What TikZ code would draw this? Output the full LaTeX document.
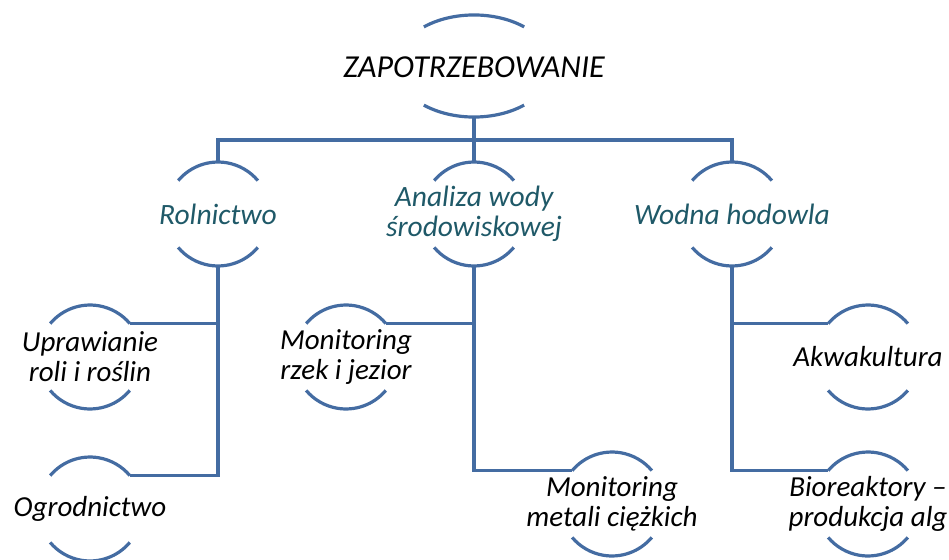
\documentclass[tikz,border=0pt]{standalone}
\usepackage{fontspec}
\setmainfont{Carlito}
\usetikzlibrary{calc}
\definecolor{lineblue}{RGB}{68,108,162}
\definecolor{tealtext}{RGB}{31,89,104}
\tikzset{
  conn/.style={draw=lineblue, line width=3.2pt},
  lvlone/.style={font=\fontsize{32}{34}\selectfont\itshape, text=black, align=center, inner sep=0pt},
  lvltwo/.style={font=\fontsize{29.5}{30}\selectfont\itshape, text=tealtext, align=center, inner sep=0pt},
  lvlthree/.style={font=\fontsize{29}{30}\selectfont\itshape, text=black, align=center, inner sep=0pt},
}
% bracket node: name, x, y, style, text  (circle radius 52, arcs 40..140 deg)
\newcommand\bracketnode[5]{%
  \node[#4] (#1) at (#2,#3) {#5};
  \coordinate (#1-t) at ($(#2,#3)+(0,-52)$);
  \coordinate (#1-b) at ($(#2,#3)+(0,52)$);
  \coordinate (#1-l) at ($(#2,#3)+(-39.8,-33.4)$);
  \coordinate (#1-r) at ($(#2,#3)+(39.8,-33.4)$);
  \draw[conn] (#1-l) arc[start angle=220, end angle=320, radius=52];
  \draw[conn] ($(#2,#3)+(39.8,33.4)$) arc[start angle=40, end angle=140, radius=52];
}
\begin{document}
\begin{tikzpicture}[x=1pt,y=-1pt]
\useasboundingbox (0,0) rectangle (949,559);
% top node
\node[lvlone] (zap) at (474,67) {ZAPOTRZEBOWANIE};
\coordinate (zap-b) at (474,117);
\draw[conn] ($(474,66)+(-50.1,-39.1)$) arc[start angle=230, end angle=310, x radius=78, y radius=51];
\draw[conn] ($(474,66)+(50.1,39.1)$) arc[start angle=50, end angle=130, x radius=78, y radius=51];
% level 2
\bracketnode{rol}{218}{214}{lvltwo}{Rolnictwo}
\bracketnode{ana}{474}{214}{lvltwo}{Analiza wody\\środowiskowej}
\bracketnode{wod}{732}{214}{lvltwo}{Wodna hodowla}
% level 3
\bracketnode{upr}{90}{357}{lvlthree}{Uprawianie\\roli i roślin}
\bracketnode{ogr}{90}{509}{lvlthree}{Ogrodnictwo}
\bracketnode{rze}{346}{357}{lvlthree}{Monitoring\\rzek i jezior}
\bracketnode{met}{612}{504}{lvlthree}{Monitoring\\metali ciężkich}
\bracketnode{akw}{868}{357}{lvlthree}{Akwakultura}
\bracketnode{bio}{868}{504}{lvlthree}{Bioreaktory –\\produkcja alg}
% connectors
\coordinate (bus) at (474,140);
\draw[conn] (zap-b) -- (bus);
\draw[conn] (rol-t) |- (bus) -| (wod-t);
\draw[conn] (ana-t) -- (bus);
\draw[conn] (rol-b) |- (upr-r);
\draw[conn] (rol-b) |- (ogr-r);
\draw[conn] (ana-b) |- (rze-r);
\draw[conn] (ana-b) |- (met-l);
\draw[conn] (wod-b) |- (akw-l);
\draw[conn] (wod-b) |- (bio-l);
\end{tikzpicture}
\end{document}
